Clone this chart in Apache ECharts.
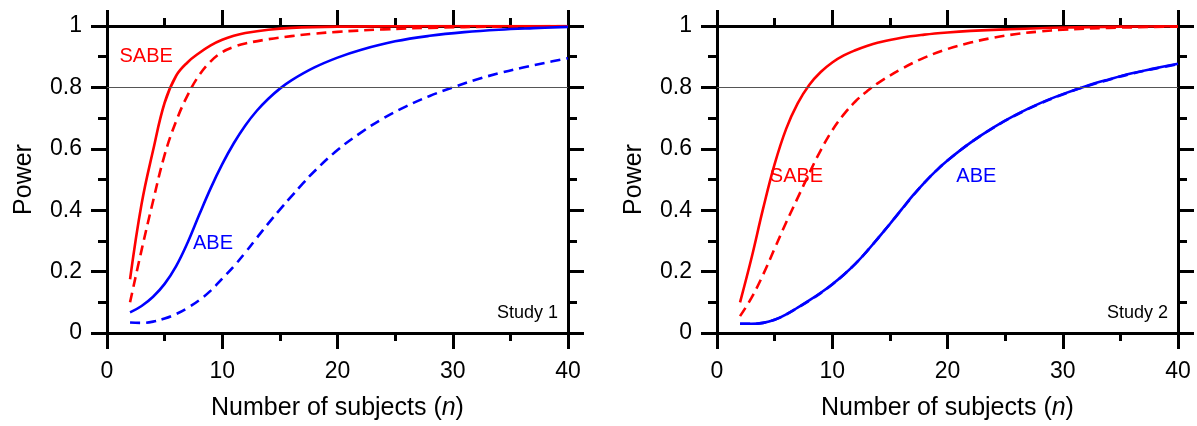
<!DOCTYPE html>
<html>
<head>
<meta charset="utf-8">
<script src="https://cdn.jsdelivr.net/npm/echarts@6/dist/echarts.min.js"></script>
<style>
	html, body { margin: 0; padding: 0; background: #fff; }
	#chart { width: 1197px; height: 426px; }
</style>
</head>
<body>
<div id="chart"></div>
<script>
// Study 1: power vs number of subjects [n, power]
const s1SabeSolid = [[2,0.175],[3,0.42],[4,0.595],[5,0.75],[6,0.838],[7,0.882],[8,0.912],[9,0.937],[10,0.955],[11,0.968],[12,0.977],[14,0.988],[16,0.994],[20,0.998],[25,0.999],[30,1],[40,1]];
const s1SabeDash = [[2,0.1],[3,0.27],[4,0.43],[5,0.58],[6,0.69],[7,0.775],[8,0.84],[9,0.885],[10,0.915],[11,0.932],[12,0.943],[14,0.957],[16,0.967],[18,0.975],[20,0.981],[24,0.989],[28,0.994],[34,0.998],[40,1]];
const s1AbeSolid = [[2,0.067],[3,0.088],[4,0.118],[5,0.16],[6,0.218],[7,0.295],[8,0.385],[9,0.472],[10,0.55],[11,0.618],[12,0.676],[13,0.724],[14,0.763],[15,0.796],[16,0.823],[18,0.865],[20,0.897],[22,0.922],[25,0.95],[28,0.968],[31,0.98],[34,0.988],[37,0.993],[40,0.997]];
const s1AbeDash = [[2,0.034],[3,0.033],[4,0.037],[5,0.047],[6,0.062],[7,0.082],[8,0.107],[9,0.138],[10,0.177],[11,0.217],[12,0.262],[13,0.31],[14,0.357],[15,0.402],[16,0.445],[17,0.487],[18,0.527],[20,0.596],[22,0.652],[24,0.7],[26,0.739],[28,0.772],[30,0.8],[32,0.825],[34,0.846],[36,0.864],[38,0.88],[40,0.895]];

// Study 2
const s2SabeSolid = [[2,0.1],[3,0.245],[4,0.405],[5,0.55],[6,0.665],[7,0.748],[8,0.808],[9,0.85],[10,0.881],[11,0.904],[12,0.921],[13,0.935],[14,0.946],[16,0.962],[18,0.972],[20,0.979],[22,0.984],[25,0.989],[30,0.995],[35,0.998],[40,0.999]];
const s2SabeDash = [[2,0.055],[3,0.115],[4,0.19],[5,0.275],[6,0.36],[7,0.44],[8,0.52],[9,0.595],[10,0.66],[11,0.712],[12,0.754],[13,0.787],[14,0.815],[16,0.86],[18,0.897],[20,0.925],[22,0.946],[24,0.962],[26,0.974],[28,0.982],[30,0.988],[34,0.994],[40,0.998]];
const s2AbeSolid = [[2,0.03],[3,0.03],[4,0.033],[5,0.043],[6,0.061],[7,0.083],[8,0.106],[9,0.131],[10,0.159],[11,0.19],[12,0.225],[13,0.266],[14,0.31],[15,0.355],[16,0.402],[17,0.448],[18,0.49],[19,0.528],[20,0.562],[22,0.62],[24,0.67],[26,0.712],[28,0.748],[30,0.778],[32,0.804],[34,0.826],[36,0.846],[38,0.862],[40,0.877]];
const s2AbeDash = [[2,0.03],[3,0.03],[4,0.033],[5,0.043],[6,0.06],[7,0.082],[8,0.105],[9,0.13],[10,0.158],[11,0.19],[12,0.225],[13,0.266],[14,0.31],[15,0.355],[16,0.401],[17,0.447],[18,0.49],[19,0.528],[20,0.562],[22,0.62],[24,0.669],[26,0.711],[28,0.747],[30,0.777],[32,0.803],[34,0.825],[36,0.845],[38,0.861],[40,0.876]];

const targetPower = 0.8;

// annotations: [grid, n, power, text, color]
const curveLabels = [
	[0, 3.4, 0.9, 'SABE', '#ff0000'],
	[0, 9.2, 0.29, 'ABE', '#0000ff'],
	[1, 6.9, 0.51, 'SABE', '#ff0000'],
	[1, 22.5, 0.51, 'ABE', '#0000ff'],
];
const studyLabels = ['Study 1', 'Study 2'];

const FONT = 'Liberation Sans, Arial, sans-serif';
const RED = '#ff0000';
const BLUE = '#0000ff';

let myChart = echarts.init(document.getElementById('chart'), null, { renderer: 'canvas' });

const tickStyle = { color: '#000', width: 3 };

const xAxisFor = (gridIndex, top) => ({
	type: 'value',
	gridIndex: gridIndex,
	position: top ? 'top' : 'bottom',
	min: 0,
	max: 40,
	interval: 10,
	axisLine: { show: true, onZero: false, lineStyle: tickStyle },
	axisTick: { show: true, inside: false, length: 16, lineStyle: tickStyle },
	minorTick: { show: true, splitNumber: 2, length: 8, lineStyle: tickStyle },
	splitLine: { show: false },
	axisLabel: {
		show: !top,
		margin: 27,
		color: '#000',
		fontSize: 23,
		fontFamily: FONT,
	},
	name: top ? '' : 'Number of subjects ({i|n})',
	nameLocation: 'middle',
	nameGap: 63,
	nameTextStyle: {
		color: '#000',
		fontSize: 25,
		fontFamily: FONT,
		rich: { i: { fontStyle: 'italic', fontSize: 25, fontFamily: FONT, color: '#000' } },
	},
});

const yAxisFor = (gridIndex, right) => ({
	type: 'value',
	gridIndex: gridIndex,
	position: right ? 'right' : 'left',
	min: 0,
	max: 1,
	interval: 0.2,
	axisLine: { show: true, onZero: false, lineStyle: tickStyle },
	axisTick: { show: true, inside: false, length: 16, lineStyle: tickStyle },
	minorTick: { show: true, splitNumber: 2, length: 9, lineStyle: tickStyle },
	splitLine: { show: false },
	axisLabel: {
		show: !right,
		margin: 25,
		color: '#000',
		fontSize: 23,
		fontFamily: FONT,
		formatter: (v) => (v === 0 || v === 1 ? String(v) : v.toFixed(1)),
	},
	name: right ? '' : 'Power',
	nameLocation: 'middle',
	nameRotate: 90,
	nameGap: 70,
	nameTextStyle: { color: '#000', fontSize: 25, fontFamily: FONT },
});

const lineSeries = (data, color, dashed, axisIdx) => ({
	type: 'line',
	data: data,
	xAxisIndex: axisIdx,
	yAxisIndex: axisIdx,
	showSymbol: false,
	smooth: 0.4,
	lineStyle: { color: color, width: 2.6, type: dashed ? [10, 6] : 'solid' },
	silent: true,
	animation: false,
});

const refLine = {
	silent: true,
	symbol: ['none', 'none'],
	label: { show: false },
	lineStyle: { color: '#555', width: 1, type: 'solid' },
	data: [{ yAxis: targetPower }],
	animation: false,
};

let option = {
	animation: false,
	grid: [
		{ left: 107, right: 629, top: 26, bottom: 93 },
		{ left: 717, right: 19, top: 26, bottom: 93 },
	],
	xAxis: [xAxisFor(0, false), xAxisFor(0, true), xAxisFor(1, false), xAxisFor(1, true)],
	yAxis: [yAxisFor(0, false), yAxisFor(0, true), yAxisFor(1, false), yAxisFor(1, true)],
	series: [
		Object.assign(lineSeries(s1SabeSolid, RED, false, 0), { markLine: refLine }),
		lineSeries(s1SabeDash, RED, true, 0),
		lineSeries(s1AbeSolid, BLUE, false, 0),
		lineSeries(s1AbeDash, BLUE, true, 0),
		Object.assign(lineSeries(s2SabeSolid, RED, false, 2), { markLine: refLine }),
		lineSeries(s2SabeDash, RED, true, 2),
		lineSeries(s2AbeSolid, BLUE, false, 2),
		lineSeries(s2AbeDash, BLUE, true, 2),
	],
};

myChart.setOption(option);

// place text labels through the chart's own coordinate system
let graphics = [];
for (const [g, n, p, text, color] of curveLabels) {
	const pt = myChart.convertToPixel({ gridIndex: g }, [n, p]);
	graphics.push({
		type: 'text',
		x: pt[0],
		y: pt[1],
		style: { text: text, fill: color, font: '20px ' + FONT, align: 'center', verticalAlign: 'middle' },
		silent: true,
	});
}
for (const [g, text] of studyLabels.entries()) {
	const pt = myChart.convertToPixel({ gridIndex: g }, [40, 0.066]);
	graphics.push({
		type: 'text',
		x: pt[0] - 10,
		y: pt[1],
		style: { text: text, fill: '#000', font: '18px ' + FONT, align: 'right', verticalAlign: 'middle' },
		silent: true,
	});
}
myChart.setOption({ graphic: graphics });

window.addEventListener('resize', () => {
	myChart.resize();
});
</script>
</body>
</html>
